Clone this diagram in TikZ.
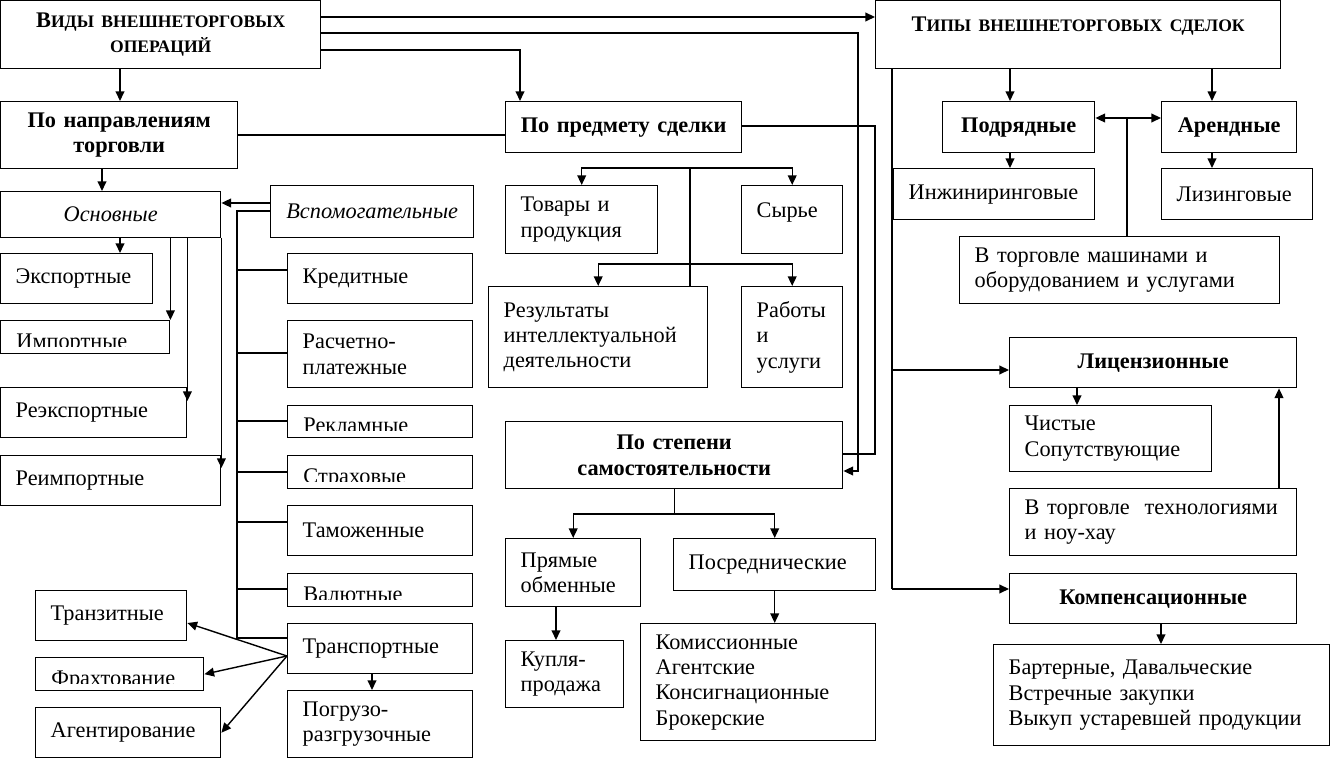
\documentclass[tikz,border=0pt]{standalone}
\usepackage{fontspec}
\setmainfont{Liberation Serif}
\usetikzlibrary{arrows.meta}

\newcommand{\pix}{0.02cm}
\newcommand{\smcap}[1]{{\fontsize{10pt}{12pt}\selectfont #1}}

\begin{document}
\begin{tikzpicture}[x=\pix, y=-\pix, line width=0.8pt,
      >={Triangle[length=5.5pt,width=5pt]},
      box/.style = {draw, anchor=north west, inner xsep=15*\pix, inner ysep=2*\pix,
         align=left, font=\fontsize{12.7}{14.4}\selectfont},
      sz/.style 2 args = {text width=(#1-30)*\pix, minimum height=#2*\pix},
      head/.style = {box, align=center, font=\bfseries\fontsize{12.7}{14.4}\selectfont},
      ital/.style = {box, align=center, font=\itshape\fontsize{12.7}{14.4}\selectfont},
      lift/.style = {text depth=#1*\pix},
      csz/.style 2 args = {minimum width=#1*\pix, minimum height=#2*\pix},
      clipbox/.style = {draw, anchor=north west, inner sep=0pt,
         path picture={
            \clip ([yshift=7*\pix]path picture bounding box.south west) rectangle
               (path picture bounding box.north east);
            \node[draw=none, anchor=base west, inner sep=0pt, minimum width=0pt,
               minimum height=0pt, font=\fontsize{12.7}{14.4}\selectfont]
               at ([xshift=15*\pix,yshift=5*\pix]path picture bounding box.south west) {#1};
         }}
   ]
   \useasboundingbox (0,0) rectangle (1330,759);

   % top level
   \node[head, sz={320}{68}] (vid) at (0,0) {В\smcap{ИДЫ ВНЕШНЕТОРГОВЫХ}\\\smcap{ОПЕРАЦИЙ}};
   \node[head, sz={405}{68}, lift=20] (tipy) at (875,0) {Т\smcap{ИПЫ ВНЕШНЕТОРГОВЫХ СДЕЛОК}};

   % by trade direction
   \node[head, sz={237}{67}] (napr) at (0,101) {По направлениям\\торговли};
   \node[head, sz={236}{51}] (pred) at (505,101) {По предмету сделки};
   \node[ital, sz={220}{46}] (osn) at (0,191) {Основные};
   \node[ital, sz={203}{52}] (vsp) at (270,185) {Вспомогательные};

   \node[box, sz={152}{50}] (exp) at (0,253) {Экспортные};
   \node[clipbox=Импортные, csz={169}{33}] (imp) at (0,320) {};
   \node[box, sz={186}{50}] (reexp) at (0,387) {Реэкспортные};
   \node[box, sz={220}{50}] (reimp) at (0,455) {Реимпортные};

   % auxiliary
   \node[box, sz={185}{50}] (kred) at (287,253) {Кредитные};
   \node[box, sz={185}{67}] (rasch) at (287,320) {Расчетно-\\платежные};
   \node[clipbox=Рекламные, csz={185}{32}] (rekl) at (287,405) {};
   \node[clipbox=Страховые, csz={185}{33}] (strah) at (287,455) {};
   \node[box, sz={185}{50}] (tam) at (287,505) {Таможенные};
   \node[clipbox=Валютные, csz={185}{33}] (val) at (287,573) {};
   \node[box, sz={185}{50}] (trans) at (287,623) {Транспортные};
   \node[box, sz={185}{67}] (pogr) at (287,690) {Погрузо-\\разгрузочные};
   \node[box, sz={151}{50}] (tranz) at (35,590) {Транзитные};
   \node[clipbox=Фрахтование, csz={168}{33}] (frah) at (35,657) {};
   \node[box, sz={185}{50}] (agent) at (35,707) {Агентирование};

   % by subject
   \node[box, sz={152}{68}] (tov) at (505,185) {Товары и\\продукция};
   \node[box, sz={101}{68}, lift=20] (syr) at (741,185) {Сырье};
   \node[box, sz={219}{101}] (rez) at (488,286) {Результаты\\интеллектуальной\\деятельности};
   \node[box, sz={101}{101}] (rab) at (741,286) {Работы\\и\\услуги};

   % by independence
   \node[head, sz={337}{67}] (samost) at (505,421) {По степени\\самостоятельности};
   \node[box, sz={135}{68}] (pryam) at (505,538) {Прямые\\обменные};
   \node[box, sz={202}{52}] (posr) at (673,538) {Посреднические};
   \node[box, sz={118}{67}] (kupl) at (505,640) {Купля-\\продажа};
   \node[box, sz={235}{117}] (komis) at (640,623) {Комиссионные\\Агентские\\Консигнационные\\Брокерские};

   % deal types
   \node[head, sz={152}{51}] (podr) at (942,101) {Подрядные};
   \node[head, sz={135}{51}] (arend) at (1161,101) {Арендные};
   \node[box, sz={201}{51}] (inzh) at (893,168) {Инжиниринговые};
   \node[box, sz={151}{51}] (liz) at (1161,168) {Лизинговые};
   \node[box, sz={320}{67}] (mash) at (959,236) {В торговле машинами и\\оборудованием и услугами};
   \node[head, sz={287}{50}] (lic) at (1009,337) {Лицензионные};
   \node[box, sz={202}{66}] (chist) at (1009,405) {Чистые\\Сопутствующие};
   \node[box, sz={287}{67}] (tehn) at (1009,488) {В торговле\ \ технологиями\\и ноу-хау};
   \node[head, sz={287}{50}] (komp) at (1009,573) {Компенсационные};
   \node[box, sz={336}{101}] (bart) at (993,644) {Бартерные, Давальческие\\Встречные закупки\\Выкуп устаревшей продукции};

   % from the top box
   \draw[->] (vid.east |- 0,17) -- (tipy.west |- 0,17);
   \draw[->] (vid.east |- 0,33) -- (858,33) |- (samost.east |- 0,471);
   \draw[->] (vid.east |- 0,50) -| (pred.north -| 520,0);
   \draw[->] (vid.south -| 120,0) -- (napr.north -| 120,0);
   \draw (napr.east |- 0,135) -- (pred.west |- 0,135);
   \draw (pred.east |- 0,126) -- (875,126) |- (samost.east |- 0,454);

   % main operations
   \draw[->] (napr.south -| 102,0) -- (osn.north -| 102,0);
   \draw[->] (vsp.west |- 0,203) -- (osn.east |- 0,203);
   \draw[->] (osn.south -| 120,0) -- (exp.north -| 120,0);
   \draw[->] (osn.south -| imp.east) -- (imp.north east);
   \draw[->] (osn.south -| reexp.east) -- (reexp.east |- 0,401);
   \draw[->] (osn.south east) -- (reimp.east |- 0,468);

   % auxiliary bus
   \coordinate (bus) at (237,211);
   \draw (vsp.west |- bus) -- (bus) |- (trans.west |- 0,638);
   \foreach \n/\yy in {kred/270, rasch/353, rekl/421, strah/472, tam/522, val/589}
      \draw (bus |- 0,\yy) -- (\n.west |- 0,\yy);

   % transport
   \coordinate (tj) at (trans.west |- 0,656);
   \draw[->] (tj) -- (tranz.east |- 0,623);
   \draw[->] (tj) -- (frah.east);
   \draw[->] (tj) -- (agent.east);
   \draw[->] (trans.south -| 372,0) -- (pogr.north -| 372,0);

   % subject
   \coordinate (pb) at (690,168);
   \draw[<->] (tov.north) -- ++(0,-17) -| (syr.north);
   \draw (pb) -- (pb |- rez.north);
   \draw[<->] (rez.north) -- ++(0,-22) -| (rab.north);

   % independence
   \draw (samost.south) -- ++(0,26);
   \draw[<->] (pryam.north) -- ++(0,-24) -| (posr.north);
   \draw[->] (pryam.south -| 556,0) -- (kupl.north -| 556,0);
   \draw[->] (posr.south) -- (posr.south |- komis.north);

   % deal types
   \draw[->] (tipy.south -| 1010,0) -- (podr.north -| 1010,0);
   \draw[->] (tipy.south -| 1212,0) -- (arend.north -| 1212,0);
   \draw[<->] (podr.east |- 0,118) -- (arend.west |- 0,118);
   \coordinate (pa) at (1127,118);
   \draw (pa) -- (pa |- mash.north);
   \draw[->] (podr.south -| 1010,0) -- (inzh.north -| 1010,0);
   \draw[->] (arend.south -| 1212,0) -- (liz.north -| 1212,0);
   \coordinate (sp) at (tipy.south -| 892,0);
   \coordinate (spe) at (892,589);
   \draw (sp) -- (spe);
   \draw[->] (sp |- 0,370) -- (lic.west |- 0,370);
   \draw[->] (spe) -- (komp.west |- spe);
   \draw[->] (lic.south -| 1077,0) -- (chist.north -| 1077,0);
   \draw[->] (tehn.north -| 1279,0) -- (lic.south -| 1279,0);
   \draw[->] (komp.south -| 1161,0) -- (bart.north -| 1161,0);
\end{tikzpicture}
\end{document}
